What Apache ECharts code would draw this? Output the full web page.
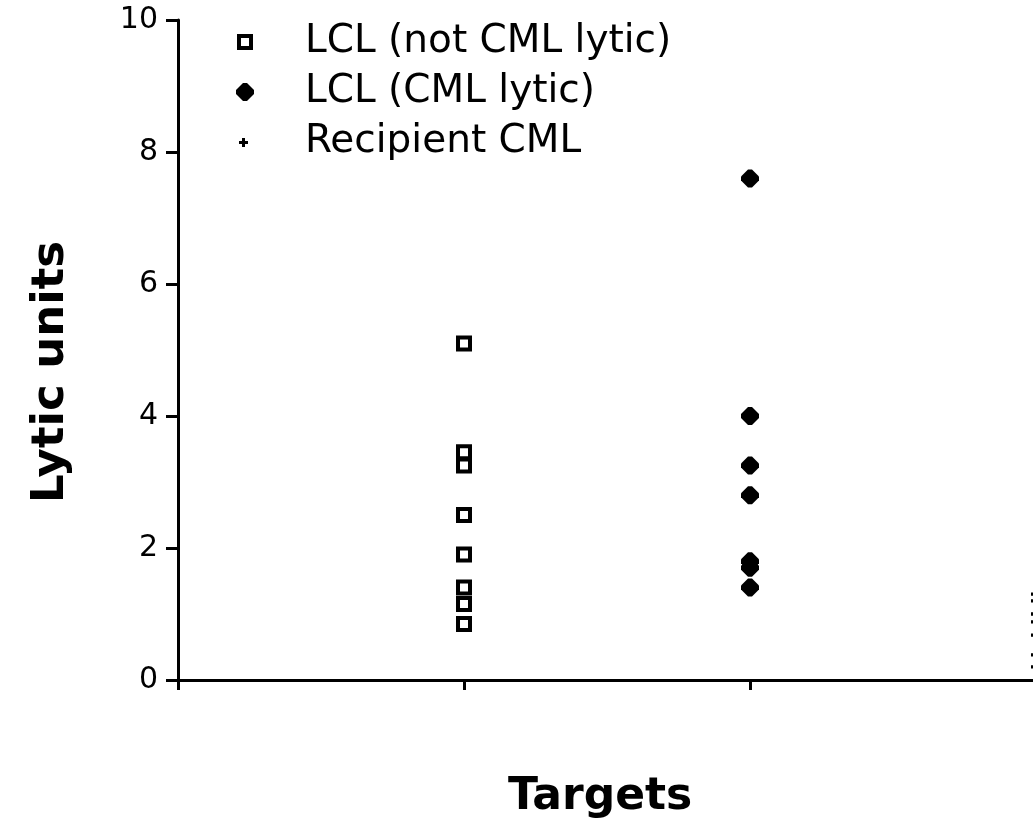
<!DOCTYPE html>
<html>
<head>
<meta charset="utf-8">
<title>Lytic units by target</title>
<script src="https://cdn.jsdelivr.net/npm/echarts@6/dist/echarts.min.js"></script>
<style>
  html, body { margin: 0; padding: 0; background: #fff; }
  #chart { width: 1033px; height: 822px; }
</style>
</head>
<body>
<div id="chart"></div>
<script>
// Target groups along the x axis (blank slots pad both ends of the axis)
const categories = ['', 'LCL (not CML lytic)', 'LCL (CML lytic)', 'Recipient CML', ''];
const seriesNames = ['LCL (not CML lytic)', 'LCL (CML lytic)', 'Recipient CML'];

// Lytic units measured for each target group
const lclNotLytic = [5.1, 3.45, 3.25, 2.5, 1.9, 1.4, 1.15, 0.85];
const lclLytic = [7.6, 4.0, 3.25, 2.8, 1.8, 1.7, 1.4];
const recipientCml = [1.3, 1.2, 1.0, 0.88, 0.68, 0.38, 0.2];

// Y-axis tick values
const yTicks = [0, 2, 4, 6, 8, 10];

const FONT = 'DejaVu Sans';

// Marker shapes
const squareFrame = 'path://M0,0H16V16H0Z M4,4V12H12V4Z';
const roundDiamond = 'path://M7,0H11L18,7V11L11,18H7L0,11V7Z';
const plusMark = 'path://M3,0H6V3H9V6H6V9H3V6H0V3H3Z';
// Legend icons share one 18px box, so the smaller shapes carry empty padding
const squareIcon = 'path://M0,0L0,0M18,18L18,18M1,1H17V17H1Z M5,5V13H13V5Z';
const plusIcon = 'path://M0,0L0,0M18,18L18,18M6,5H9V8H12V11H9V14H6V11H3V8H6Z';

function points(group, values) {
  return values.map(v => [group, v]);
}

const markStyle = { color: '#000', opacity: 1 };

const chart = echarts.init(document.getElementById('chart'));

chart.setOption({
  animation: false,
  backgroundColor: '#ffffff',
  textStyle: { fontFamily: FONT, color: '#000' },
  grid: {
    left: 178,
    top: 20,
    width: 1144,
    height: 660,
    containLabel: false,
    outerBoundsMode: 'none'
  },
  legend: {
    orient: 'vertical',
    left: 236,
    top: 22,
    padding: 0,
    itemWidth: 18,
    itemHeight: 18,
    itemGap: 10,
    selectedMode: false,
    itemStyle: { opacity: 1 },
    textStyle: {
      fontFamily: FONT,
      fontSize: 39,
      color: '#000',
      lineHeight: 40,
      padding: [0, 0, 0, 46]
    },
    data: [
      { name: seriesNames[0], icon: squareIcon },
      { name: seriesNames[1], icon: roundDiamond },
      { name: seriesNames[2], icon: plusIcon }
    ]
  },
  xAxis: {
    type: 'category',
    data: categories,
    boundaryGap: false,
    axisLine: { lineStyle: { color: '#000', width: 3 } },
    axisTick: { show: true, inside: false, length: 10, lineStyle: { color: '#000', width: 3 } },
    axisLabel: { show: false },
    splitLine: { show: false }
  },
  yAxis: {
    type: 'value',
    min: yTicks[0],
    max: yTicks[yTicks.length - 1],
    interval: yTicks[1] - yTicks[0],
    name: 'Lytic units',
    nameLocation: 'middle',
    nameGap: 104,
    nameTextStyle: {
      fontFamily: FONT,
      fontSize: 45,
      fontWeight: 'bold',
      color: '#000',
      padding: [0, 44, 0, 0]
    },
    axisLine: { show: true, lineStyle: { color: '#000', width: 3 } },
    axisTick: { show: true, inside: false, length: 12, lineStyle: { color: '#000', width: 3 } },
    axisLabel: { fontFamily: FONT, fontSize: 30, color: '#000', margin: 20 },
    splitLine: { show: false }
  },
  graphic: [{
    type: 'text',
    left: 508,
    top: 776,
    style: {
      text: 'Targets',
      fontFamily: FONT,
      fontSize: 44,
      fontWeight: 'bold',
      fill: '#000'
    }
  }],
  series: [
    {
      name: seriesNames[0],
      type: 'scatter',
      symbol: squareFrame,
      symbolSize: 16,
      itemStyle: markStyle,
      data: points(categories[1], lclNotLytic)
    },
    {
      name: seriesNames[1],
      type: 'scatter',
      symbol: roundDiamond,
      symbolSize: 18,
      itemStyle: markStyle,
      data: points(categories[2], lclLytic)
    },
    {
      name: seriesNames[2],
      type: 'scatter',
      symbol: plusMark,
      symbolSize: 10,
      itemStyle: markStyle,
      data: points(categories[3], recipientCml)
    }
  ]
});
</script>
</body>
</html>
